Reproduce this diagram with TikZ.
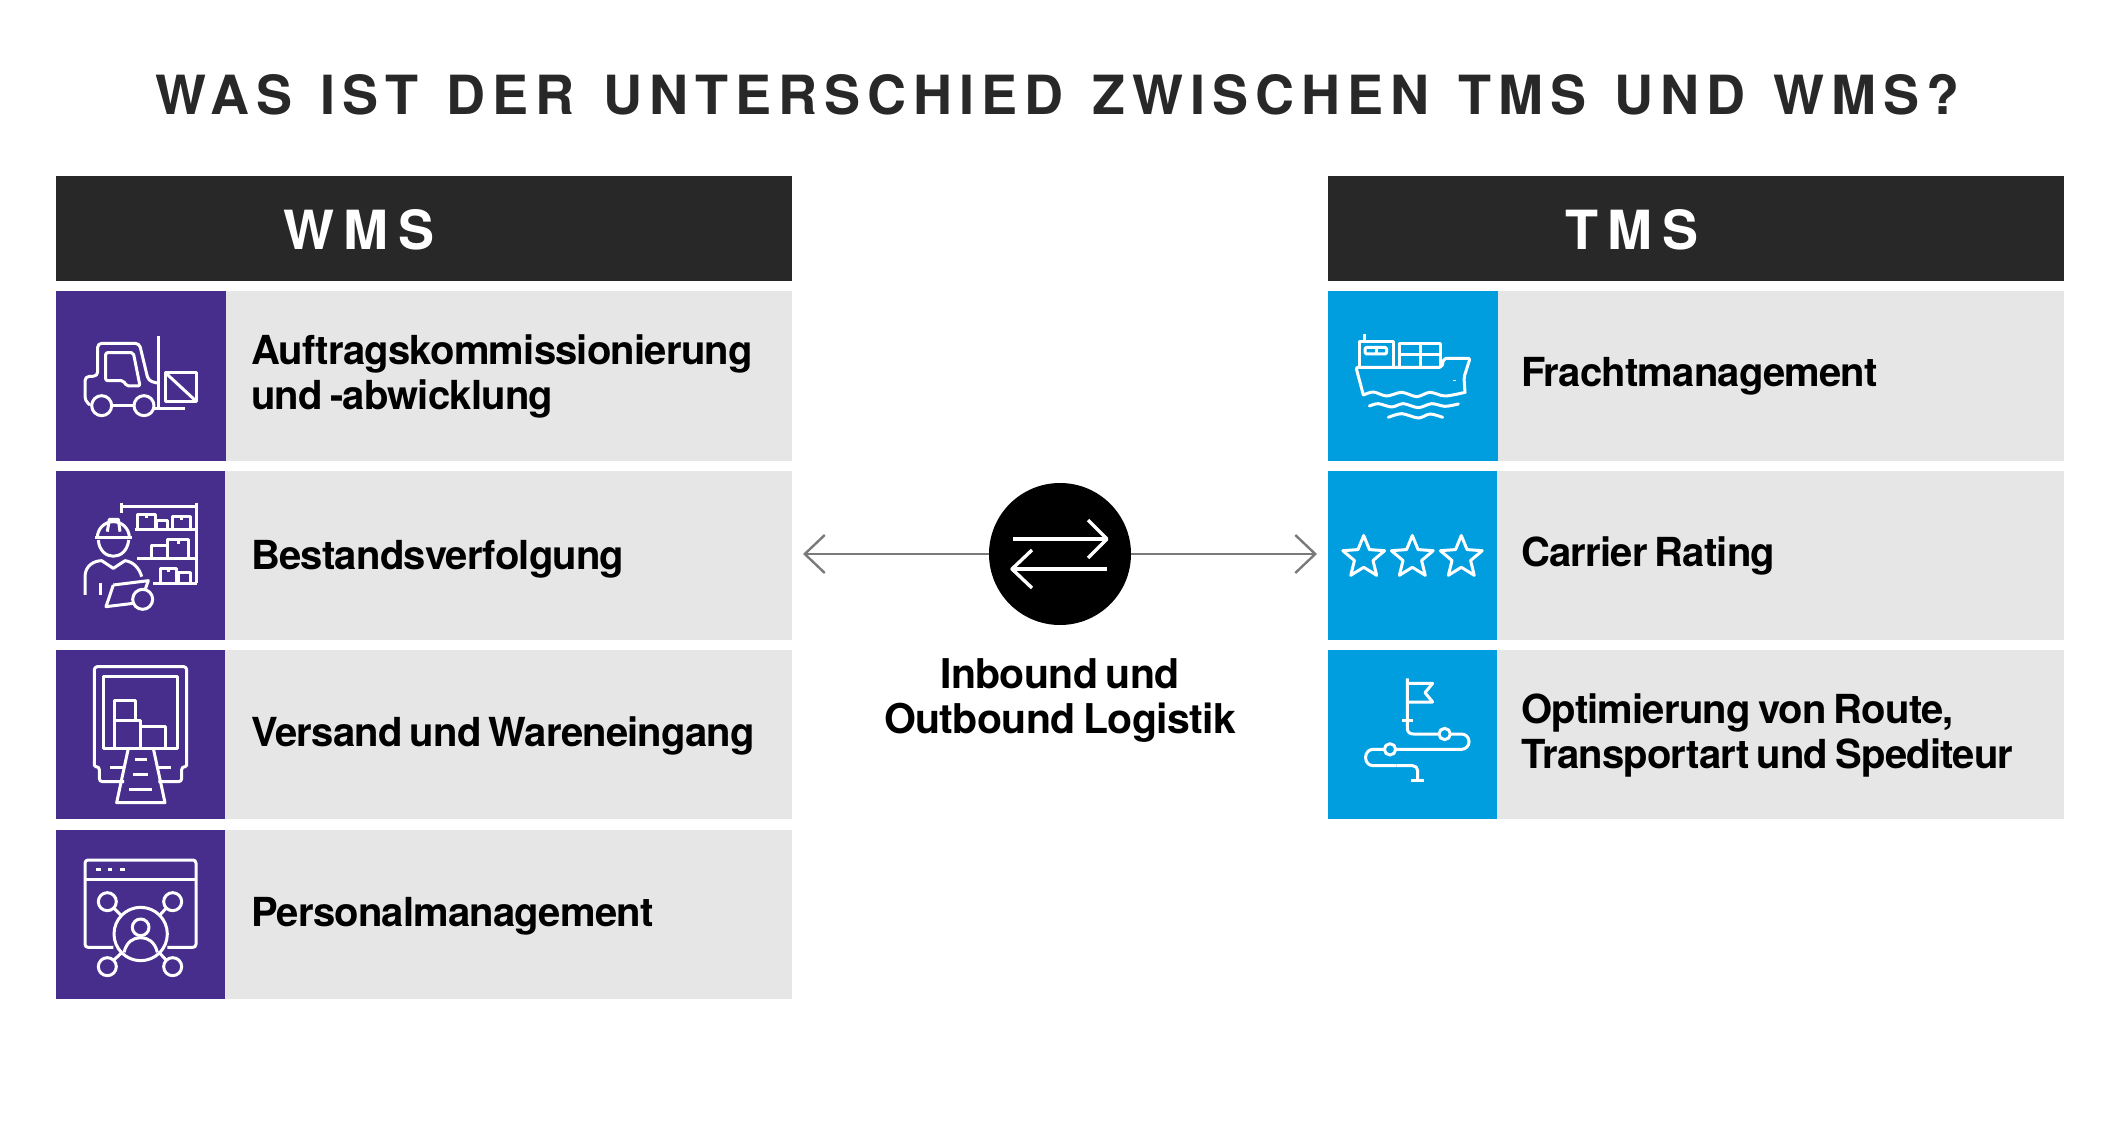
\documentclass[tikz,border=0pt]{standalone}
\usepackage{fontspec}
\setmainfont{TeX Gyre Heros}
\newfontfamily\titlefont[LetterSpace=13,WordSpace=1.29]{TeX Gyre Heros}
\newfontfamily\headfont[LetterSpace=18]{TeX Gyre Heros}
\newfontfamily\rowfont[LetterSpace=-2,WordSpace=0.7]{TeX Gyre Heros}
\newfontfamily\hubfont[LetterSpace=-1.5,WordSpace=0.7]{TeX Gyre Heros}
\usetikzlibrary{arrows.meta,shapes.geometric}
\definecolor{headgray}{HTML}{282828}
\definecolor{rowgray}{HTML}{E6E6E6}
\definecolor{wmspurple}{HTML}{472E8C}
\definecolor{tmsblue}{HTML}{009DDF}
\definecolor{flowgray}{HTML}{7A7A7A}
\tikzset{
  headbox/.style={fill=headgray,text=white,anchor=north west,minimum height=105pt,inner sep=0pt,outer sep=0pt},
  headtext/.style={text=white,anchor=base west,inner sep=0pt,font=\headfont\bfseries\fontsize{54}{60}\selectfont},
  titletext/.style={text=headgray,anchor=base west,inner sep=0pt,font=\titlefont\bfseries\fontsize{54}{60}\selectfont},
  rowbox/.style={fill=rowgray,anchor=north west,inner sep=0pt,outer sep=0pt},
  iconbox/.style={anchor=north west,inner sep=0pt,outer sep=0pt},
  rowtext/.style={anchor=base west,inner sep=0pt,align=left,text=black,font=\rowfont\bfseries\fontsize{40}{44.5}\selectfont},
  hubtext/.style={anchor=north,inner sep=0pt,align=center,text=black,font=\hubfont\bfseries\fontsize{41}{45}\selectfont},
  iconline/.style={draw=white,line width=3pt,line join=round},
  flowline/.style={draw=flowgray,line width=2.4pt,-{Straight Barb[length=20pt,width=38pt]}},
}
\begin{document}
\begin{tikzpicture}[x=1pt,y=-1pt]
  \useasboundingbox (0,0) rectangle (2122,1131);
  \node (title) [titletext] at (155,115) {WAS IST DER UNTERSCHIED ZWISCHEN TMS UND WMS?};
  \node (wmshead) [headbox,minimum width=736pt] at (56,176) {};
  \node (tmshead) [headbox,minimum width=736pt] at (1328,176) {};
  \node (wmslabel) [headtext] at (283,250) {WMS};
  \node (tmslabel) [headtext] at (1565,250) {TMS};
  % rows, left and right
  \foreach \i/\top/\high/\wide in {1/291/170/170,2/471/169/169,3/650/169/169,4/830/169/169} {
    \node (wmsicon\i) [iconbox,fill=wmspurple,minimum width=\wide pt,minimum height=\high pt] at (56,\top) {};
    \node (wmsrow\i) [rowbox,minimum width=736pt-\wide pt,minimum height=\high pt] at (wmsicon\i.north east) {};
  }
  \foreach \i/\top/\high/\wide in {1/291/170/170,2/471/169/169,3/650/169/169} {
    \node (tmsicon\i) [iconbox,fill=tmsblue,minimum width=\wide pt,minimum height=\high pt] at (1328,\top) {};
    \node (tmsrow\i) [rowbox,minimum width=736pt-\wide pt,minimum height=\high pt] at (tmsicon\i.north east) {};
  }
  \node (wmstext1) [rowtext] at (251,409) {Auftragskommissionierung\\und -abwicklung};
  \node (wmstext2) [rowtext] at (251,569) {Bestandsverfolgung};
  \node (wmstext3) [rowtext] at (251,746) {Versand und Wareneingang};
  \node (wmstext4) [rowtext] at (251,926) {Personalmanagement};
  \node (tmstext1) [rowtext] at (1521,386) {Frachtmanagement};
  \node (tmstext2) [rowtext] at (1521,566) {Carrier Rating};
  \node (tmstext3) [rowtext] at (1521,768) {Optimierung von Route,\\Transportart und Spediteur};
  % middle
  \node (hub) [circle,fill=black,minimum size=142pt,inner sep=0pt,outer sep=0pt] at (1060,554) {};
  \coordinate (leftend) at (803,554);
  \coordinate (rightend) at (1317,554);
  \draw [flowline] (hub) -- (leftend);
  \draw [flowline] (hub) -- (rightend);
  \draw [iconline,line width=3.4pt] (1013,539) -- (1107,539);
  \draw [iconline,line width=3.4pt] (1088,520) -- (1107,539) -- (1088,558);
  \draw [iconline,line width=3.4pt] (1107,569) -- (1012,569);
  \draw [iconline,line width=3.4pt] (1032,550) -- (1012,569) -- (1032,588);
  \node (hubcaption) [hubtext] at (1060,658) {Inbound und\\Outbound Logistik};
  % forklift
  \begin{scope}[shift={(50,290)},scale=1/3,iconline]
    \draw [rounded corners=4pt] (120,345) -- (105,332) -- (105,260) -- (143,258) -- (143,160) -- (268,160) -- (295,272) -- (325,280);
    \draw (325,138) -- (325,355) -- (405,355);
    \draw [rounded corners=2pt] (167,188) -- (250,188) -- (270,288) -- (230,288) -- (220,272) -- (167,272) -- cycle;
    \draw (155,347) circle (30);
    \draw (282,347) circle (30);
    \draw (185,347) -- (252,347);
    \draw (312,355) -- (325,355);
    \draw (345,247) rectangle (440,335);
    \draw (345,247) -- (440,335);
  \end{scope}
  % worker and shelf
  \begin{scope}[shift={(50,290)},scale=1/3,iconline]
    \draw (215,650) -- (440,650);
    \draw (215,638) -- (215,668);
    \draw (440,638) -- (440,880);
    \draw (255,720) -- (440,720);
    \draw (262,805) -- (440,805);
    \draw (308,880) -- (440,880);
    \draw (262,720) -- (262,675) -- (315,675) -- (315,720);
    \draw (320,720) -- (320,693) -- (352,693) -- (352,720);
    \draw (368,720) -- (368,680) -- (420,680) -- (420,720);
    \draw (305,805) -- (305,768) -- (352,768);
    \draw (352,805) -- (352,750) -- (415,750) -- (415,805);
    \draw (330,880) -- (330,835) -- (380,835) -- (380,880);
    \draw (385,880) -- (385,848) -- (420,848) -- (420,880);
    \draw (288,675) -- (288,685);
    \draw (394,680) -- (394,690);
    \draw (384,750) -- (384,762);
    \draw (355,835) -- (355,845);
    \draw (142,743) arc (180:360:48);
    \draw (135,743) -- (245,743);
    \draw (172,725) -- (178,688) -- (205,688) -- (210,725);
    \draw (145,750) .. controls (150,815) and (230,815) .. (236,750);
    \draw (105,915) -- (105,860) .. controls (105,825) and (135,812) .. (155,812) -- (190,835) -- (225,812) .. controls (250,815) and (268,835) .. (275,860);
    \draw (150,880) -- (150,915);
    \draw (190,885) -- (295,872) -- (285,900);
    \draw (190,885) -- (168,950) -- (250,940);
    \draw (278,928) circle (30);
  \end{scope}
  % truck with ramp
  \begin{scope}[shift={(50,650)},scale=1/3,iconline]
    \draw [rounded corners=3pt] (133,350) -- (133,50) -- (410,50) -- (410,350);
    \draw [rounded corners=3pt] (133,350) -- (148,350) -- (148,395) -- (222,395);
    \draw [rounded corners=3pt] (410,350) -- (395,350) -- (395,395) -- (325,395);
    \draw (160,78) rectangle (383,295);
    \draw (193,212) -- (193,150) -- (255,150) -- (255,212);
    \draw (193,295) -- (193,212) -- (272,212) -- (272,295);
    \draw (272,230) -- (345,230) -- (345,295);
    \draw (235,295) -- (200,458) -- (345,458) -- (310,295);
    \draw (255,328) -- (290,328);
    \draw (250,373) -- (295,373);
    \draw (238,418) -- (305,418);
    \draw (180,352) -- (225,352);
    \draw (328,352) -- (362,352);
  \end{scope}
  % window with people network
  \begin{scope}[shift={(50,650)},scale=1/3,iconline]
    \draw [rounded corners=3pt] (190,892) -- (105,892) -- (105,630) -- (438,630) -- (438,892) -- (352,892);
    \draw (105,688) -- (438,688);
    \foreach \x in {145,180,217} {
      \draw (\x-7,657) -- (\x+7,657);
    }
    \draw (272,852) circle (80);
    \draw (272,832) circle (25);
    \draw (222,907) .. controls (230,875) and (250,863) .. (272,863) .. controls (294,863) and (314,875) .. (322,907);
    \foreach \x/\y in {172/755,368/755,172/950,368/950} {
      \draw (\x,\y) circle (27);
    }
    \draw (192,775) -- (212,795);
    \draw (348,775) -- (330,795);
    \draw (192,930) -- (215,908);
    \draw (348,930) -- (328,908);
  \end{scope}
  % ship
  \begin{scope}[shift={(1330,290)},scale=1/3,iconline]
    \draw (88,228) -- (88,155) -- (190,155) -- (190,228);
    \draw (103,133) -- (103,155);
    \draw [rounded corners=1.5pt] (105,172) rectangle (170,192);
    \draw (138,172) -- (138,192);
    \draw (208,228) -- (208,160) -- (330,160) -- (330,228);
    \draw (208,193) -- (330,193);
    \draw (270,160) -- (270,228);
    \draw [rounded corners=2pt] (100,315) -- (78,232) -- (335,232) -- (342,205) -- (420,205) -- (402,262) -- (405,310);
    \draw [line cap=round] plot [smooth] coordinates {(100,315) (130,306) (170,318) (215,307) (260,320) (300,307) (345,318) (405,307)};
    \draw [line cap=round] plot [smooth] coordinates {(118,348) (145,341) (185,351) (220,341) (265,353) (305,341) (345,349) (385,342)};
    \draw [line cap=round] plot [smooth] coordinates {(175,382) (215,371) (265,384) (300,372) (338,382)};
    \draw [line width=1pt] (370,273) -- (378,273);
  \end{scope}
  % stars
  \foreach \i/\x in {1/1363.7,2/1412.3,3/1461.3} {
    \node (star\i) [star,star points=5,star point ratio=2.25,iconline,minimum size=44pt,inner sep=0pt] at (\x,557.5) {};
  }
  % route with flag
  \begin{scope}[shift={(1330,650)},scale=1/3,iconline]
    \draw (232,85) -- (232,235) .. controls (232,247) and (240,252) .. (250,252) -- (327,252);
    \draw (344,252) circle (17);
    \draw [rounded corners=7.5pt] (361,252) -- (417,252) -- (417,298) -- (197,298);
    \draw (180,298) circle (17);
    \draw [rounded corners=7.5pt] (163,298) -- (107,298) -- (107,347) -- (200,347);
    \draw [rounded corners=5pt] (200,347) -- (263,347) -- (263,390);
    \draw (243,390) -- (282,390);
    \draw (217,212) -- (250,212);
    \draw (232,100) -- (308,100) -- (285,128) -- (308,156) -- (232,156);
  \end{scope}
\end{tikzpicture}
\end{document}
